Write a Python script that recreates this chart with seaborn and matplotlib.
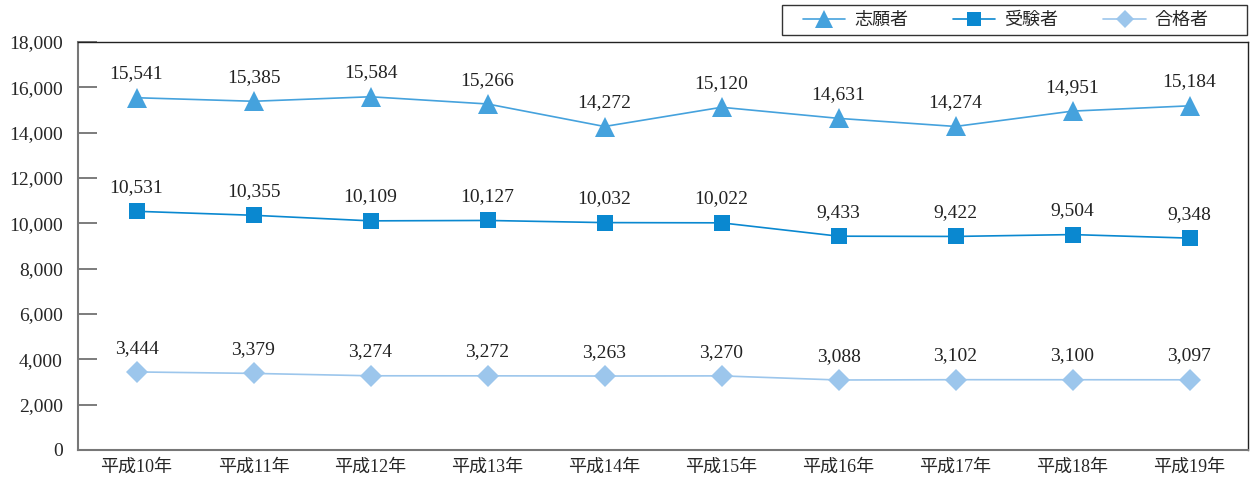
import pandas as pd
import matplotlib.pyplot as plt
from matplotlib.patches import Rectangle
import numpy as np
import seaborn as sns

years = ['平成10年', '平成11年', '平成12年', '平成13年', '平成14年',
         '平成15年', '平成16年', '平成17年', '平成18年', '平成19年']
shigan = [15541, 15385, 15584, 15266, 14272, 15120, 14631, 14274, 14951, 15184]
juken = [10531, 10355, 10109, 10127, 10032, 10022, 9433, 9422, 9504, 9348]
gokaku = [3444, 3379, 3274, 3272, 3263, 3270, 3088, 3102, 3100, 3097]

series = [('志願者', shigan, '#45a2dd', '^', 15),
          ('受験者', juken, '#0a88d0', 's', 12),
          ('合格者', gokaku, '#9cc6ec', 'D', 11)]

sns.set_style('white')
fonts = ['Liberation Serif', 'Noto Sans CJK JP', 'DejaVu Sans']
plt.rcParams['font.family'] = fonts

fig = plt.figure(figsize=(12.5, 4.8), dpi=100)
ax = fig.add_axes([0.0624, 0.0625, 0.936, 0.85])

x = np.arange(len(years))
for name, vals, col, mk, ms in series:
    df = pd.DataFrame({'x': x, 'y': vals})
    sns.lineplot(data=df, x='x', y='y', ax=ax, color=col, marker=mk,
                 markersize=ms, markeredgewidth=0, linewidth=1.2, label=name)
    for xi, v in zip(x, vals):
        ax.annotate(f'{v:,}', (xi, v), xytext=(0, 11), textcoords='offset points',
                    ha='center', va='bottom', fontsize=14, color='#222222')

ax.set_xlim(-0.5, len(years) - 0.5)
ax.set_ylim(0, 18000)
ax.set_yticks(range(0, 18001, 2000))
ax.set_yticklabels([f'{t:,}' for t in range(0, 18001, 2000)], fontsize=14)
ax.set_xticks(x)
ax.set_xticklabels(years, fontsize=13)
ax.set_xlabel('')
ax.set_ylabel('')
ax.tick_params(axis='y', left=True, direction='in', length=14, width=1.2,
               color='#666666', pad=11)
ax.tick_params(axis='x', bottom=False, length=0, pad=6)
for s in ['left', 'bottom']:
    ax.spines[s].set_color('#777777')
    ax.spines[s].set_linewidth(1.5)
for s in ['top', 'right']:
    ax.spines[s].set_color('#222222')
    ax.spines[s].set_linewidth(1)

# legend above the plot, with its own frame box
ax.get_legend().remove()
handles, labels = ax.get_legend_handles_labels()
fig.legend(handles, labels, ncol=3, loc='center left',
           bbox_to_anchor=(803 / 1250, 1 - 20 / 480), borderaxespad=0,
           borderpad=0, frameon=False, handlelength=2.33, columnspacing=2.5,
           handletextpad=0.5, markerscale=0.85,
           prop={'family': ['Noto Sans CJK JP'], 'size': 13})
fig.patches.append(Rectangle((782 / 1250, 1 - 35 / 480), 465 / 1250, 30 / 480,
                             transform=fig.transFigure, fill=False,
                             edgecolor='#333333', linewidth=1))

fig.savefig('out.png', dpi=100)
